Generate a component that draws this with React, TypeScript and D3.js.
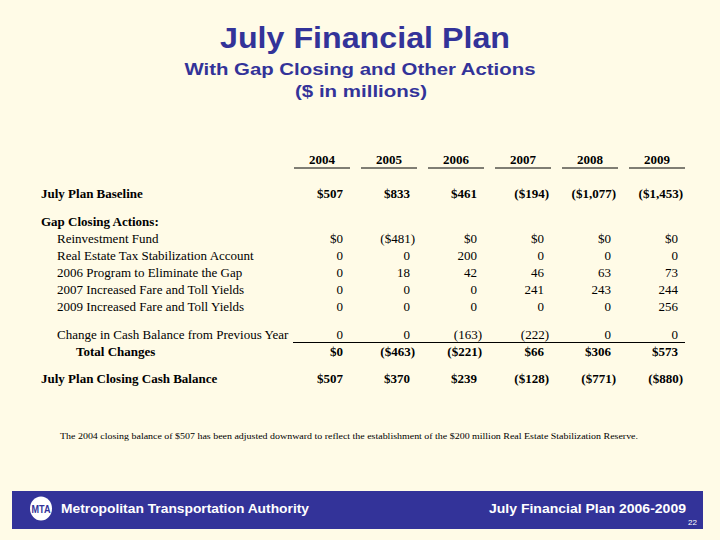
import React from "react";
import * as d3 from "d3";

const years = ["2004", "2005", "2006", "2007", "2008", "2009"];
const baseline = [507, 833, 461, -194, -1077, -1453];
const reinvestmentFund = [0, -481, 0, 0, 0, 0];
const realEstateTax = [0, 0, 200, 0, 0, 0];
const program2006 = [0, 18, 42, 46, 63, 73];
const fare2007 = [0, 0, 0, 241, 243, 244];
const fare2009 = [0, 0, 0, 0, 0, 256];
const cashChange = [0, 0, -163, -222, 0, 0];
const totalChanges = [0, -463, -221, 66, 306, 573];
const closingBalance = [507, 370, 239, -128, -771, -880];

const rows = [
  { label: "July Plan Baseline", values: baseline, dollar: true, bold: true, indent: 0, y: 193 },
  { label: "Gap Closing Actions:", values: null, dollar: false, bold: true, indent: 0, y: 221 },
  { label: "Reinvestment Fund", values: reinvestmentFund, dollar: true, bold: false, indent: 1, y: 238 },
  { label: "Real Estate Tax Stabilization Account", values: realEstateTax, dollar: false, bold: false, indent: 1, y: 255 },
  { label: "2006 Program to Eliminate the Gap", values: program2006, dollar: false, bold: false, indent: 1, y: 272 },
  { label: "2007 Increased Fare and Toll Yields", values: fare2007, dollar: false, bold: false, indent: 1, y: 289 },
  { label: "2009 Increased Fare and Toll Yields", values: fare2009, dollar: false, bold: false, indent: 1, y: 306 },
  { label: "Change in Cash Balance from Previous Year", values: cashChange, dollar: false, bold: false, indent: 1, y: 334 },
  { label: "Total Changes", values: totalChanges, dollar: true, bold: true, indent: 2, y: 351 },
  { label: "July Plan Closing Cash Balance", values: closingBalance, dollar: true, bold: true, indent: 0, y: 378 },
];

const BG = "#FFFBE7";
const BLUE = "#333399";
const SERIF = "'Liberation Serif', 'Times New Roman', serif";
const SANS = "'Liberation Sans', Arial, sans-serif";

const fmtNum = d3.format(",");
function fmt(v: number, dollar: boolean) {
  const s = (dollar ? "$" : "") + fmtNum(Math.abs(v));
  return v < 0 ? `(${s})` : s;
}

export default function App() {
  const x = d3.scalePoint<string>().domain(years).range([322, 657]);
  const indentX = [41, 57, 76];
  const parenW = 5;
  return (
    <svg
      width={720}
      height={540}
      style={{ position: "absolute", left: 0, top: 0, display: "block" }}
    >
      <rect x={0} y={0} width={720} height={540} fill={BG} />
      {/* Titles */}
      <text x={365} y={48} textAnchor="middle" fontFamily={SANS} fontWeight="bold" fontSize={29} fill={BLUE} textLength={290} lengthAdjust="spacingAndGlyphs">
        July Financial Plan
      </text>
      <text x={360} y={75} textAnchor="middle" fontFamily={SANS} fontWeight="bold" fontSize={17} fill={BLUE} textLength={351} lengthAdjust="spacingAndGlyphs">
        With Gap Closing and Other Actions
      </text>
      <text x={361} y={97} textAnchor="middle" fontFamily={SANS} fontWeight="bold" fontSize={17} fill={BLUE} textLength={132} lengthAdjust="spacingAndGlyphs">
        ($ in millions)
      </text>

      {/* Column headers */}
      {years.map((yr) => (
        <g key={yr}>
          <text x={x(yr)} y={164} textAnchor="middle" fontFamily={SERIF} fontWeight="bold" fontSize={13} fill="#000">
            {yr}
          </text>
          <line x1={(x(yr) as number) - 28} x2={(x(yr) as number) + 28} y1={168} y2={168} stroke="#000" strokeWidth={1} />
        </g>
      ))}

      {/* Rows */}
      {rows.map((r) => (
        <g key={r.label}>
          <text x={indentX[r.indent]} y={r.y + 4.5} fontFamily={SERIF} fontWeight={r.bold ? "bold" : "normal"} fontSize={13} fill="#000">
            {r.label}
          </text>
          {r.values &&
            r.values.map((v, i) => (
              <text
                key={i}
                x={(x(years[i]) as number) + 21 + (v < 0 ? parenW : 0)}
                y={r.y + 4.5}
                textAnchor="end"
                fontFamily={SERIF}
                fontWeight={r.bold ? "bold" : "normal"}
                fontSize={13}
                fill="#000"
              >
                {fmt(v, r.dollar)}
              </text>
            ))}
        </g>
      ))}
      <line x1={293} x2={685} y1={342.5} y2={342.5} stroke="#000" strokeWidth={1} />

      {/* Footnote */}
      <text x={60} y={439} fontFamily={SERIF} fontSize={9} fill="#000" textLength={578} lengthAdjust="spacingAndGlyphs">
        The 2004 closing balance of $507 has been adjusted downward to reflect the establishment of the $200 million Real Estate Stabilization Reserve.
      </text>

      {/* Footer */}
      <rect x={12} y={491} width={691} height={38} fill={BLUE} />
      <ellipse cx={41} cy={508.5} rx={11} ry={12} fill="#fff" />
      <text x={41} y={513} textAnchor="middle" fontFamily={SANS} fontWeight="bold" fontSize={11} fill={BLUE} textLength={19} lengthAdjust="spacingAndGlyphs">
        MTA
      </text>
      <text x={61} y={513} fontFamily={SANS} fontWeight="bold" fontSize={13} fill="#fff" textLength={248} lengthAdjust="spacingAndGlyphs">
        Metropolitan Transportation Authority
      </text>
      <text x={686} y={513} textAnchor="end" fontFamily={SANS} fontWeight="bold" fontSize={13} fill="#fff" textLength={197} lengthAdjust="spacingAndGlyphs">
        July Financial Plan 2006-2009
      </text>
      <text x={697} y={525} textAnchor="end" fontFamily={SANS} fontSize={8} fill="#fff">
        22
      </text>
    </svg>
  );
}
